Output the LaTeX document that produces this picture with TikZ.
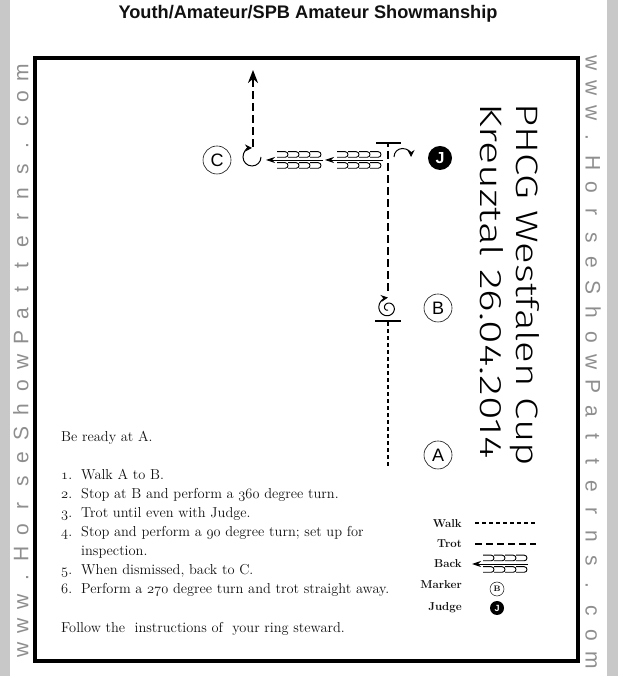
\documentclass[tikz,border=0pt]{standalone}
\usepackage{fontspec}
\setsansfont{Liberation Sans}
\newfontfamily\handfont[FakeStretch=1.3]{Fira Sans Light}
\newfontfamily\handwide[FakeStretch=1.39]{Fira Sans Light}
\usetikzlibrary{arrows.meta}
\definecolor{hsink}{HTML}{111111}
\definecolor{hsweb}{HTML}{8E8E8E}
\definecolor{hsside}{HTML}{C8C8C8}
% old style figures as in the pattern sheet
\newcommand\osnum[1]{{\usefont{OML}{cmm}{m}{it}#1}}
% one back step: a small open loop
\newcommand\backmark[2]{\draw[hs mark] (#1,#2+2.8) -- ++(8.2,0) arc (90:-90:2.8) -- ++(-8.2,0);}
\tikzset{
  hs title/.style={font=\sffamily\bfseries\fontsize{18.2}{20}\selectfont, text=hsink},
  hs web/.style={font=\sffamily\fontsize{21}{21}\selectfont, text=hsweb, anchor=base, inner sep=0pt},
  hs marker/.style={circle, draw=hsink, line width=0.6pt, minimum size=28pt, inner sep=0pt,
    font=\sffamily\fontsize{18}{18}\selectfont},
  hs judge/.style={circle, fill=black, minimum size=24pt, inner sep=0pt, text=white,
    font=\sffamily\bfseries\fontsize{16}{16}\selectfont},
  hs walk/.style={line width=2.2pt, dash pattern=on 4pt off 3pt},
  hs trot/.style={line width=2.2pt, dash pattern=on 8pt off 4pt},
  hs stop/.style={line width=2pt},
  hs turn/.style={line width=1pt, -{Stealth[length=7pt,width=7pt]}},
  hs back/.style={line width=0.9pt, -{Stealth[length=9pt,width=6pt]}},
  hs mark/.style={line width=0.9pt},
  hs hand/.style={font=\handfont\fontsize{31}{31}\selectfont, rotate=-90, anchor=base west, inner sep=0pt},
  hs line/.style={font=\fontsize{14.4}{19}\selectfont, anchor=base west, inner sep=0pt, text=hsink},
  hs key/.style={font=\bfseries\fontsize{11.5}{13}\selectfont, anchor=base east, inner sep=0pt, text=hsink}
}

\begin{document}
\begin{tikzpicture}[x=1pt, y=1pt]
  % page, side strips and arena frame
  \fill[hsside] (0,0) rectangle (618,676);
  \fill[white] (10,0) rectangle (607,676);
  \useasboundingbox (0,0) rectangle (618,676);
  \draw[line width=4pt] (35,15) rectangle (578,618);
  \node[hs title] (title) at (308,662) {Youth/Amateur/SPB Amateur Showmanship};

  % web address down both sides
  \foreach \ch [count=\i from 0] in {w,w,w,.,H,o,r,s,e,S,h,o,w,P,a,t,t,e,r,n,s,.,c,o,m} {
    \node[hs web, rotate=90] (webl\i) at (28.5,26+24.04*\i) {\ch};
    \node[hs web, rotate=-90] (webr\i) at (585.5,613-24.9*\i) {\ch};
  }

  % markers
  \node[hs marker] (markC) at (217,516) {C};
  \node[hs judge] (judge) at (440,518) {J};
  \node[hs marker] (markB) at (438,368) {B};
  \node[hs marker] (markA) at (438,221) {A};

  % walk A to B, stop
  \coordinate (walkstart) at (388,210);
  \coordinate (stopB) at (388,355);
  \draw[hs walk] (walkstart) -- (stopB);
  \draw[hs stop] ([xshift=-13pt]stopB) -- ([xshift=13pt]stopB);
  % 360 turn
  \draw[hs turn] plot[domain=0:1, samples=60, smooth]
    ({388+(2+8.5*\x)*cos(630-540*\x)}, {368+(2+8.5*\x)*sin(630-540*\x)});

  % trot to judge, stop, 90 turn
  \coordinate (trotstart) at (388,385);
  \coordinate (stopJ) at (388,533);
  \draw[hs trot] (trotstart) -- (stopJ);
  \draw[hs stop] ([xshift=-12pt]stopJ) -- ([xshift=13pt]stopJ);
  \coordinate (turnJ) at (394,519);
  \draw[hs turn] (turnJ) arc (180:0:8.5);

  % back to C
  \coordinate (backone) at (383,516);
  \coordinate (backoneend) at (325,516);
  \coordinate (backtwo) at (323,516);
  \coordinate (backtwoend) at (266,516);
  \draw[hs back] (backone) -- (backoneend);
  \draw[hs back] (backtwo) -- (backtwoend);
  \foreach \k in {0,...,3} {
    \backmark{337+11*\k}{521.5}
    \backmark{337+11*\k}{510.5}
    \backmark{277+11*\k}{521.5}
    \backmark{277+11*\k}{510.5}
  }

  % 270 turn and trot away
  \coordinate (turnC) at (261,519);
  \draw[hs turn] (turnC) arc (0:-270:9);
  \coordinate (exitstart) at (253,529);
  \coordinate (exitend) at (253,606);
  \draw[hs trot, -{Stealth[length=13pt,width=10pt]}] (exitstart) -- (exitend);

  % show name, written by hand
  \node[hs hand] (event) at (516,573) {PHCG Westfalen Cup};
  \node[hs hand, font=\handwide\fontsize{31}{31}\selectfont] (venue) at (480,573) {Kreuztal 26.04.2014};

  % pattern text
  \node[hs line] (ready) at (61,234) {Be ready at A.};
  \foreach \n/\y/\txt in {1/196/Walk A to B.,
      2/177/Stop at B and perform a \osnum{360} degree turn.,
      3/158/Trot until even with Judge.,
      4/139/Stop and perform a \osnum{90} degree turn; set up for,
      5/101/{When dismissed, back to C.},
      6/82/Perform a \osnum{270} degree turn and trot straight away.} {
    \node[hs line] (num\n) at (61,\y) {\osnum{\n}.};
    \node[hs line] (step\n) at (81,\y) {\txt};
  }
  \node[hs line] (stepfour) at (81,120) {inspection.};
  \node[hs line] (follow) at (61,43) {Follow the\ \ instructions of\ \ your ring steward.};

  % legend
  \node[hs key] (keywalk) at (462,148) {Walk};
  \node[hs key] (keytrot) at (462,128) {Trot};
  \node[hs key] (keyback) at (462,108) {Back};
  \node[hs key] (keymarker) at (462,87) {Marker};
  \node[hs key] (keyjudge) at (462,65) {Judge};
  \coordinate (walka) at (475,153);
  \coordinate (walkb) at (536,153);
  \draw[line width=1.5pt, dash pattern=on 4pt off 3pt] (walka) -- (walkb);
  \coordinate (trota) at (475,132);
  \coordinate (trotb) at (536,132);
  \draw[line width=1.5pt, dash pattern=on 7pt off 4pt] (trota) -- (trotb);
  \coordinate (keybacka) at (528,112);
  \coordinate (keybackb) at (472,112);
  \draw[hs back] (keybacka) -- (keybackb);
  \foreach \k in {0,...,3} {
    \backmark{483+11*\k}{118}
    \backmark{483+11*\k}{106.5}
  }
  \node[circle, draw=hsink, line width=0.5pt, minimum size=14pt, inner sep=0pt,
    font=\bfseries\fontsize{8}{8}\selectfont] (keyB) at (497,87) {B};
  \node[circle, fill=black, minimum size=14pt, inner sep=0pt, text=white,
    font=\sffamily\bfseries\fontsize{9}{9}\selectfont] (keyJ) at (497,68) {J};
\end{tikzpicture}
\end{document}
